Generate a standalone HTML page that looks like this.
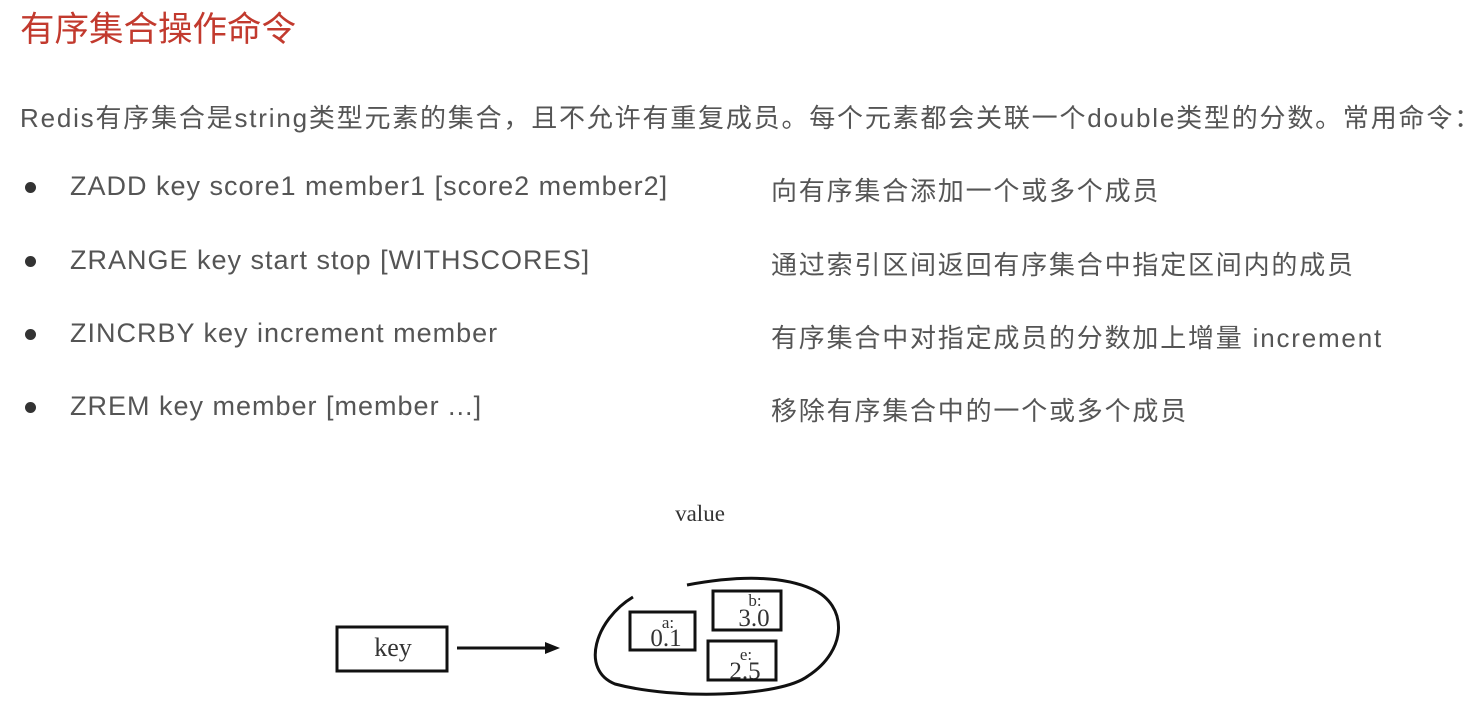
<!DOCTYPE html>
<html><head><meta charset="utf-8"><style>
body{margin:0;width:1479px;height:709px;background:#fff;position:relative;overflow:hidden;font-family:"Liberation Sans","Noto Sans CJK SC",sans-serif;color:#555}
.t{position:absolute;white-space:nowrap}
.title{left:20px;top:1px;font-size:34.5px;color:#c23a2e}
.desc{left:20px;top:98px;font-size:26px;letter-spacing:1.8px}
.dot{position:absolute;left:25px;width:11px;height:11px;border-radius:50%;background:#333}
.c{left:70px;font-size:27px;letter-spacing:1px}
.d{left:771px;font-size:26px;letter-spacing:1.8px}
</style></head><body>
<div class="t title">有序集合操作命令</div>
<div class="t desc">Redis有序集合是string类型元素的集合，且不允许有重复成员。每个元素都会关联一个double类型的分数。常用命令：</div>
<div class="dot" style="top:182px"></div><div class="t c" style="top:171px">ZADD key score1 member1 [score2 member2]</div><div class="t d" style="top:171px">向有序集合添加一个或多个成员</div>
<div class="dot" style="top:256px"></div><div class="t c" style="top:245px">ZRANGE key start stop [WITHSCORES]</div><div class="t d" style="top:245px">通过索引区间返回有序集合中指定区间内的成员</div>
<div class="dot" style="top:329px"></div><div class="t c" style="top:318px">ZINCRBY key increment member</div><div class="t d" style="top:318px">有序集合中对指定成员的分数加上增量 increment</div>
<div class="dot" style="top:402px"></div><div class="t c" style="top:391px">ZREM key member [member ...]</div><div class="t d" style="top:391px">移除有序集合中的一个或多个成员</div>
<svg style="position:absolute;left:0;top:0" width="1479" height="709">
<g font-family="Liberation Serif,serif" fill="#333" text-anchor="middle">
<text x="700" y="521" font-size="23">value</text>
<text x="393" y="656" font-size="26">key</text>
<text x="668" y="628" font-size="17">a:</text><text x="666" y="646" font-size="25">0.1</text>
<text x="755" y="606" font-size="17">b:</text><text x="754" y="626" font-size="25">3.0</text>
<text x="746" y="660" font-size="17">e:</text><text x="745" y="679" font-size="25">2.5</text>
</g>
<g fill="none" stroke="#111" stroke-width="3">
<rect x="337" y="627" width="110" height="44"/>
<rect x="630" y="612" width="65" height="38"/>
<rect x="713" y="591" width="68" height="39"/>
<rect x="708" y="641" width="68" height="39"/>
<path d="M633 597 C595 620,580 670,615 684 C675 700,780 697,808 676 C848 650,848 605,812 589 C780 575,735 576,687 585"/>
<line x1="457" y1="648" x2="550" y2="648"/>
</g>
<polygon points="545,642 560,648 545,654" fill="#111"/>
</svg>
</body></html>
